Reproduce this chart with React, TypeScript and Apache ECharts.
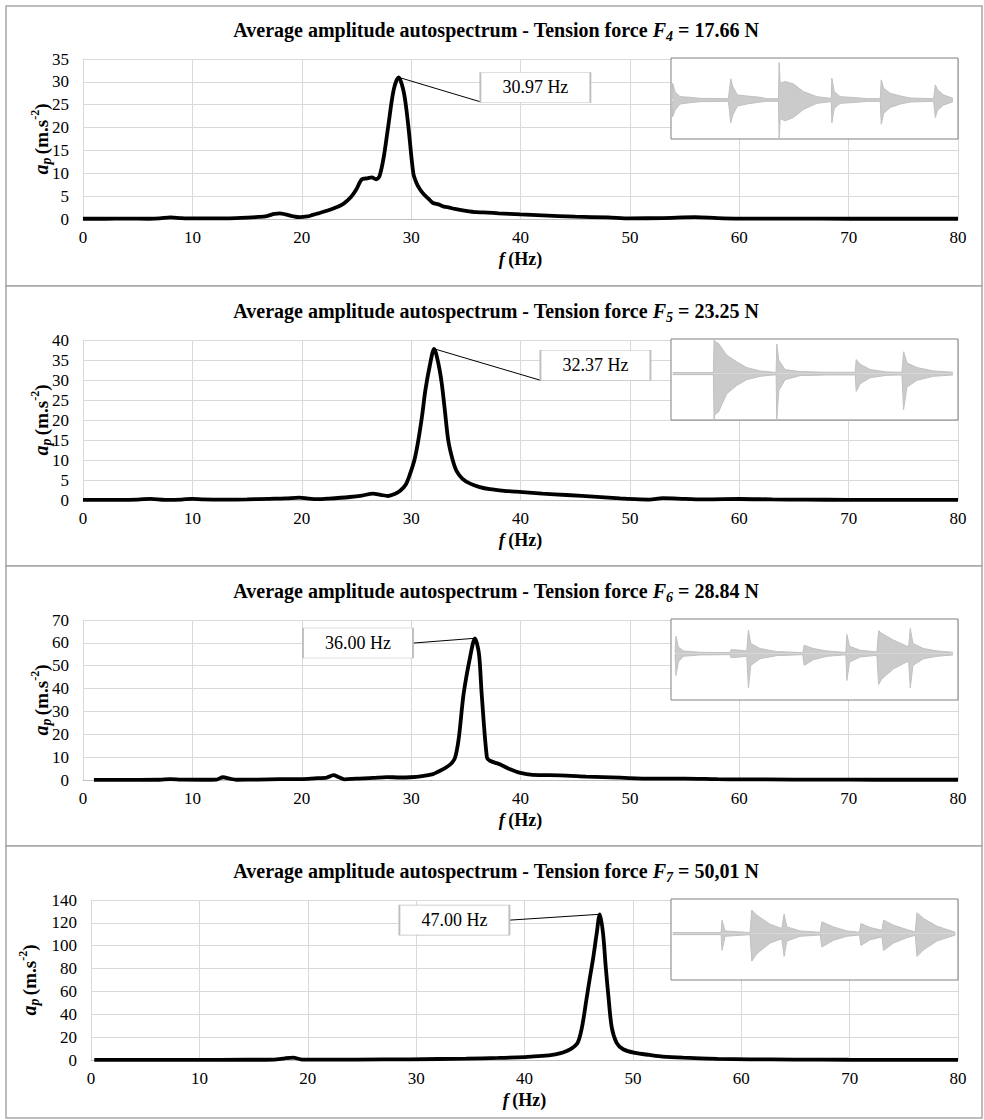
import React, { useEffect, useRef } from "react";
import * as echarts from "echarts";

const FONT = '"Liberation Serif", "Times New Roman", Times, serif';

// ---------- Spectrum data (f in Hz, a_p in m.s^-2) ----------
const f4Freq = [0, 2, 4, 6, 7, 8, 9, 10, 12, 14, 15, 16, 16.8, 17.5, 18, 18.5, 19.2, 19.8, 20.5, 21, 21.6, 22.3, 23, 23.8, 24.5, 25, 25.5, 26, 26.4, 26.8, 27.1, 27.5, 27.9, 28.4, 28.85, 29.35, 29.75, 30.2, 30.5, 30.8, 31.2, 31.6, 32, 32.5, 33, 33.5, 34, 35, 36, 37, 38, 40, 42, 45, 48, 50, 53, 56, 58, 60, 65, 70, 75, 80];
const f4Amp = [0.05, 0.05, 0.08, 0.06, 0.12, 0.35, 0.2, 0.12, 0.12, 0.2, 0.3, 0.45, 0.65, 1.1, 1.25, 1.0, 0.6, 0.4, 0.55, 0.9, 1.3, 1.8, 2.4, 3.3, 4.8, 6.5, 8.7, 8.9, 9.1, 8.7, 9.3, 13.6, 20.2, 28.2, 31.0, 27.5, 20.2, 10, 7.8, 6.5, 5.3, 4.4, 3.5, 3.2, 2.7, 2.5, 2.2, 1.8, 1.5, 1.4, 1.25, 1.0, 0.8, 0.5, 0.35, 0.15, 0.2, 0.4, 0.2, 0.1, 0.08, 0.05, 0.05, 0.05];

const f5Freq = [0, 3, 5, 6.2, 7.5, 9, 10, 11, 13, 15, 17, 18.5, 19.8, 20.6, 21.4, 22.5, 24.4, 25.5, 26.5, 27.2, 27.9, 28.5, 29, 29.5, 29.9, 30.3, 30.65, 31, 31.3, 31.7, 32.1, 32.5, 32.8, 33.1, 33.4, 33.8, 34.15, 34.7, 35.4, 36.2, 37.2, 38.5, 39.6, 42, 44.2, 47, 49.1, 50.5, 51.8, 53, 55, 57, 60, 63, 66, 70, 75, 80];
const f5Amp = [0.05, 0.05, 0.1, 0.3, 0.05, 0.1, 0.3, 0.15, 0.1, 0.15, 0.3, 0.4, 0.6, 0.35, 0.2, 0.35, 0.75, 1.1, 1.6, 1.3, 1.0, 1.5, 2.3, 3.8, 6.5, 10, 14.8, 21, 27.4, 33.5, 37.8, 34, 29.1, 22, 14.8, 10, 7.3, 5.3, 4.1, 3.3, 2.7, 2.3, 2.1, 1.6, 1.25, 0.8, 0.4, 0.2, 0.1, 0.45, 0.3, 0.15, 0.25, 0.15, 0.08, 0.05, 0.05, 0.05];

const f6Freq = [1, 3, 5, 7, 8, 9, 11, 12.2, 12.8, 13.4, 14, 16, 18, 20, 21.4, 22.2, 22.9, 23.4, 23.9, 25, 26.5, 27.75, 29, 29.9, 31, 32, 32.5, 33.1, 33.6, 34.0, 34.35, 34.8, 35.4, 35.83, 36.2, 36.45, 36.93, 37.2, 38.1, 39, 39.9, 41.1, 42.5, 44.2, 46, 49.1, 52, 55, 58, 60, 65, 70, 75, 80];
const f6Amp = [0.05, 0.05, 0.05, 0.1, 0.4, 0.15, 0.1, 0.2, 1.2, 0.6, 0.1, 0.2, 0.35, 0.4, 0.8, 0.9, 2.1, 1.2, 0.3, 0.6, 0.9, 1.3, 1.1, 1.2, 1.7, 2.6, 3.7, 5.2, 6.9, 9.5, 18, 37.7, 54, 62, 55.3, 37.7, 9.8, 8.4, 6.9, 4.8, 3.2, 2.2, 2.1, 1.9, 1.5, 1.0, 0.6, 0.6, 0.35, 0.3, 0.2, 0.15, 0.1, 0.1];

const f7Freq = [0.3, 4.3, 9.35, 14.4, 16.9, 17.9, 18.65, 19.35, 20.45, 24.5, 29.5, 34.6, 37.6, 40.0, 41.65, 42.85, 43.55, 44.25, 44.9, 45.3, 45.7, 46.0, 46.35, 46.65, 46.95, 47.25, 47.5, 47.75, 48.05, 48.5, 49.1, 50.2, 51.55, 52.75, 54.65, 57.8, 60.8, 64.85, 69.9, 74.95, 80];
const f7Amp = [0.1, 0.1, 0.1, 0.2, 0.4, 1.5, 2.0, 0.6, 0.3, 0.4, 0.6, 1.2, 1.8, 2.6, 3.6, 5, 6.5, 9.5, 15, 28.5, 52, 70, 90, 110, 127.5, 110.6, 81, 55, 28.5, 15, 9.4, 6.2, 4.4, 3, 2, 1, 0.6, 0.4, 0.2, 0.1, 0.1];

// ---------- Inset time-signal envelopes (t, upper, lower) ----------
const w4T = [36, 38, 45, 60, 90, 120, 205, 212, 218, 232, 260, 300, 320, 355, 357, 360, 375, 400, 430, 470, 510, 513, 515, 522, 540, 600, 620, 660, 663, 670, 690, 720, 750, 820, 825, 832, 850, 878];
const w4Hi = [4, 50, 25, 10, 8, 5, 4, 63, 40, 15, 12, 8, 4, 4, 112, 50, 55, 48, 25, 10, 5, 4, 65, 25, 10, 6, 4, 4, 60, 35, 20, 12, 6, 4, 45, 30, 15, 5];
const w4Lo = [-4, -50, -30, -12, -8, -5, -4, -68, -45, -18, -12, -6, -4, -4, -115, -55, -62, -52, -28, -10, -5, -4, -68, -25, -10, -6, -4, -4, -72, -40, -22, -12, -6, -4, -52, -30, -15, -5];

const w5T = [38, 160, 162, 165, 175, 200, 230, 260, 300, 340, 348, 350, 356, 375, 420, 500, 585, 588, 600, 630, 680, 725, 730, 740, 770, 820, 878];
const w5Hi = [3, 3, 100, 95, 90, 55, 35, 18, 8, 4, 4, 88, 40, 12, 6, 4, 4, 42, 28, 12, 5, 4, 65, 32, 18, 8, 4];
const w5Lo = [-3, -3, -137, -120, -115, -60, -35, -18, -8, -4, -4, -137, -50, -18, -6, -4, -4, -53, -30, -12, -5, -4, -107, -40, -20, -8, -4];

const w6T = [45, 48, 55, 70, 120, 210, 213, 240, 260, 265, 272, 300, 350, 428, 432, 460, 500, 550, 557, 560, 568, 600, 650, 655, 665, 700, 745, 750, 758, 790, 830, 878];
const w6Hi = [3, 52, 20, 8, 4, 3, 12, 10, 8, 70, 30, 15, 6, 3, 25, 15, 8, 4, 4, 57, 22, 10, 5, 68, 60, 40, 20, 75, 30, 15, 8, 4];
const w6Lo = [-3, -65, -25, -8, -4, -3, -12, -10, -8, -102, -35, -15, -6, -3, -35, -18, -8, -4, -4, -80, -25, -10, -5, -92, -75, -45, -22, -102, -35, -15, -8, -4];

const w7T = [38, 183, 186, 195, 270, 275, 290, 330, 365, 372, 380, 420, 480, 485, 520, 560, 598, 602, 630, 665, 670, 700, 740, 765, 770, 790, 830, 885];
const w7Hi = [3, 3, 40, 8, 3, 70, 55, 28, 15, 58, 20, 8, 4, 35, 20, 8, 4, 30, 18, 10, 40, 25, 12, 5, 62, 45, 22, 4];
const w7Lo = [-3, -3, -50, -8, -3, -82, -60, -28, -15, -68, -22, -8, -4, -40, -20, -8, -4, -35, -18, -10, -50, -28, -12, -5, -68, -48, -22, -4];

// ---------- Axis ticks / labels ----------
const xMin = 0;
const xMax = 80;
const xStep = 10;
const yMaxes = [35, 40, 70, 140];
const ySteps = [5, 5, 10, 20];
const forceIdx = ["4", "5", "6", "7"];
const forceVal = ["17.66 N", "23.25 N", "28.84 N", "50,01 N"];
const peakText = ["30.97 Hz", "32.37 Hz", "36.00 Hz", "47.00 Hz"];

// callout geometry in data units (peak point, box centre, leader end)
const calloutPeak = [[28.85, 31.0], [32.1, 37.8], [35.83, 62], [46.95, 127.5]];
const calloutBox = [[41.36, 28.77], [46.85, 33.7], [25.14, 59.9], [33.53, 122.4]];
const calloutEnd = [[36.38, 25.6], [41.86, 29.9], [30.16, 59.9], [38.65, 122.4]];

const spectra = [
  [f4Freq, f4Amp],
  [f5Freq, f5Amp],
  [f6Freq, f6Amp],
  [f7Freq, f7Amp],
];
const waves = [
  [w4T, w4Hi, w4Lo, -116, 125],
  [w5T, w5Hi, w5Lo, -138, 103],
  [w6T, w6Hi, w6Lo, -138, 103],
  [w7T, w7Hi, w7Lo, -138, 103],
];

const GRID_TOPS = [59, 340, 620, 900];
const GRID_LEFT = [83, 83, 83, 91];
const NAME_GAP = [30, 30, 30, 50];
const GRID_H = 160;
const PANEL_Y = [6, 286, 566, 846];
const PANEL_H = [280, 280, 280, 272];

function buildOption() {
  const grid: any[] = [];
  const xAxis: any[] = [];
  const yAxis: any[] = [];
  const series: any[] = [];
  const title: any[] = [];
  const graphic: any[] = [];

  for (let i = 0; i < 4; i++) {
    const top = GRID_TOPS[i];
    graphic.push({
      type: "rect",
      z: -10,
      shape: { x: 6, y: PANEL_Y[i], width: 976, height: PANEL_H[i] },
      style: { fill: "#fff", stroke: "#a6a6a6", lineWidth: 1.5 },
    });

    title.push({
      left: 496,
      textAlign: "center",
      top: top - 42,
      padding: 0,
      text: `{b|Average amplitude autospectrum - Tension force }{i|F}{s|${forceIdx[i]}}{b| = ${forceVal[i]}}`,
      textStyle: {
        rich: {
          b: { fontFamily: FONT, fontWeight: "bold", fontSize: 20, color: "#000", lineHeight: 26 },
          i: { fontFamily: FONT, fontWeight: "bold", fontStyle: "italic", fontSize: 20, color: "#000", lineHeight: 26 },
          s: { fontFamily: FONT, fontWeight: "bold", fontStyle: "italic", fontSize: 14, color: "#000", lineHeight: 14, verticalAlign: "bottom" },
        },
      },
    });

    // main grid
    grid.push({ left: GRID_LEFT[i], right: 26, top, height: GRID_H, containLabel: false });
    // inset grid
    grid.push({
      left: 671,
      width: 287,
      top: top - 1,
      height: 81,
      show: true,
      z: 5,
      backgroundColor: "#fff",
      borderColor: "#808080",
      borderWidth: 1,
    });

    xAxis.push({
      type: "value",
      gridIndex: i * 2,
      min: xMin,
      max: xMax,
      interval: xStep,
      axisLine: { show: true, lineStyle: { color: "#bfbfbf", width: 1 } },
      axisTick: { show: false },
      splitLine: { show: true, lineStyle: { color: "#d9d9d9", width: 1 } },
      axisLabel: { color: "#000", fontFamily: FONT, fontSize: 17, margin: 10 },
      name: "{i|f} {b|(Hz)}",
      nameLocation: "middle",
      nameGap: 31,
      nameMoveOverlap: false,
      nameTextStyle: {
        rich: {
          i: { fontFamily: FONT, fontStyle: "italic", fontWeight: "bold", fontSize: 18, color: "#000" },
          b: { fontFamily: FONT, fontWeight: "bold", fontSize: 18, color: "#000" },
        },
      },
    });
    yAxis.push({
      type: "value",
      gridIndex: i * 2,
      min: 0,
      max: yMaxes[i],
      interval: ySteps[i],
      axisLine: { show: true, lineStyle: { color: "#d9d9d9" } },
      axisTick: { show: false },
      splitLine: { show: true, lineStyle: { color: "#d9d9d9", width: 1 } },
      axisLabel: { color: "#000", fontFamily: FONT, fontSize: 17, margin: 14 },
      name: "{i|a}{s|p} {b|(m.s}{sup|-2}{b|)}",
      nameLocation: "middle",
      nameGap: NAME_GAP[i],
      nameMoveOverlap: false,
      nameRotate: 90,
      nameTextStyle: {
        rich: {
          i: { fontFamily: FONT, fontStyle: "italic", fontWeight: "bold", fontSize: 20, color: "#000", lineHeight: 24 },
          s: { fontFamily: FONT, fontStyle: "italic", fontWeight: "bold", fontSize: 14, color: "#000", lineHeight: 13, verticalAlign: "bottom" },
          b: { fontFamily: FONT, fontWeight: "bold", fontSize: 19, color: "#000", lineHeight: 24 },
          sup: { fontFamily: FONT, fontWeight: "bold", fontSize: 12, color: "#000", lineHeight: 12, verticalAlign: "top" },
        },
      },
    });

    const [wt, whi, wlo, wmin, wmax] = waves[i] as any;
    xAxis.push({ type: "value", gridIndex: i * 2 + 1, min: 33, max: 893, show: false });
    yAxis.push({ type: "value", gridIndex: i * 2 + 1, min: wmin, max: wmax, show: false });

    const [fr, am] = spectra[i];
    series.push({
      type: "line",
      xAxisIndex: i * 2,
      yAxisIndex: i * 2,
      data: fr.map((x, k) => [x, am[k]]),
      smooth: 0.3,
      symbol: "none",
      lineStyle: { color: "#000", width: 3.8 },
      z: 3,
      markLine: {
        silent: true,
        symbol: ["none", "none"],
        label: { show: false },
        lineStyle: { color: "#000", width: 1, type: "solid" },
        data: [[{ coord: calloutPeak[i] }, { coord: calloutEnd[i] }]],
      },
      markPoint: {
        silent: true,
        symbol: "rect",
        symbolSize: [110, 30],
        itemStyle: { color: "#fff", borderColor: "#bfbfbf", borderWidth: 1 },
        label: {
          show: true,
          position: "inside",
          formatter: peakText[i],
          color: "#000",
          fontFamily: FONT,
          fontSize: 18,
        },
        data: [{ coord: calloutBox[i] }],
      },
    });

    const wstyle = {
      type: "line",
      xAxisIndex: i * 2 + 1,
      yAxisIndex: i * 2 + 1,
      symbol: "none",
      smooth: false,
      z: 6,
      lineStyle: { color: "#c0c0c0", width: 1 },
      areaStyle: { color: "#cbcbcb", opacity: 1, origin: 0 },
    };
    series.push({ ...wstyle, data: wt.map((t: number, k: number) => [t, whi[k]]) });
    series.push({ ...wstyle, data: wt.map((t: number, k: number) => [t, wlo[k]]) });
  }

  return { animation: false, backgroundColor: "#fff", title, grid, xAxis, yAxis, series, graphic };
}

export default function App() {
  const ref = useRef<HTMLDivElement>(null);
  useEffect(() => {
    document.body.style.margin = "0";
    if (!ref.current) return;
    const chart = echarts.init(ref.current, undefined, { renderer: "svg" });
    chart.setOption(buildOption() as any);
    return () => chart.dispose();
  }, []);
  return <div ref={ref} style={{ width: 984, height: 1120 }} />;
}
